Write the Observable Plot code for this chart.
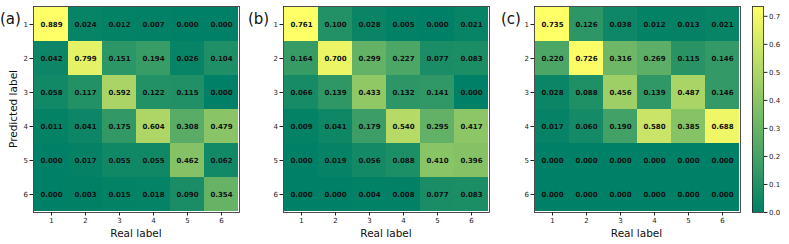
<!DOCTYPE html>
<html><head><meta charset="utf-8">
<script src="https://cdn.jsdelivr.net/npm/d3@7"></script>
<script src="https://cdn.jsdelivr.net/npm/@observablehq/plot@0.6"></script>
<style>
body{margin:0;background:#fff;}
#wrap{position:relative;width:789px;height:244px;overflow:hidden;background:#fff;}
#wrap > svg{position:absolute;top:0;}
</style></head><body><div id="wrap"></div>
<script>
// Class labels (rows = predicted label, columns = real label)
const classLabels = [1, 2, 3, 4, 5, 6];
const panelTags = ["(a)", "(b)", "(c)"];
const colorbarTicks = [0, 0.1, 0.2, 0.3, 0.4, 0.5, 0.6, 0.7];

const matA = [
  [0.889, 0.024, 0.012, 0.007, 0.000, 0.000],
  [0.042, 0.799, 0.151, 0.194, 0.026, 0.104],
  [0.058, 0.117, 0.592, 0.122, 0.115, 0.000],
  [0.011, 0.041, 0.175, 0.604, 0.308, 0.479],
  [0.000, 0.017, 0.055, 0.055, 0.462, 0.062],
  [0.000, 0.003, 0.015, 0.018, 0.090, 0.354]
];
const matB = [
  [0.761, 0.100, 0.028, 0.005, 0.000, 0.021],
  [0.164, 0.700, 0.299, 0.227, 0.077, 0.083],
  [0.066, 0.139, 0.433, 0.132, 0.141, 0.000],
  [0.009, 0.041, 0.179, 0.540, 0.295, 0.417],
  [0.000, 0.019, 0.056, 0.088, 0.410, 0.396],
  [0.000, 0.000, 0.004, 0.008, 0.077, 0.083]
];
const matC = [
  [0.735, 0.126, 0.038, 0.012, 0.013, 0.021],
  [0.220, 0.726, 0.316, 0.269, 0.115, 0.146],
  [0.028, 0.088, 0.456, 0.139, 0.487, 0.146],
  [0.017, 0.060, 0.190, 0.580, 0.385, 0.688],
  [0.000, 0.000, 0.000, 0.000, 0.000, 0.000],
  [0.000, 0.000, 0.000, 0.000, 0.000, 0.000]
];
const matrices = [matA, matB, matC];

const summer = ["#008066", "#ffff66"];
const FONT = "DejaVu Sans";
const wrap = document.getElementById("wrap");

const frameLefts = [33, 283, 533.5];
const FRAME = 206, TOP = 6, ML = 22, MR = 4, MB = 244 - 6 - 206;

matrices.forEach((m, i) => {
  const data = [];
  m.forEach((row, r) => row.forEach((v, c) => data.push({pred: classLabels[r], real: classLabels[c], value: v})));
  const vmax = d3.max(data, d => d.value);
  const svg = Plot.plot({
    width: ML + FRAME + MR,
    height: 244,
    marginLeft: ML, marginRight: MR, marginTop: TOP, marginBottom: MB,
    style: {fontFamily: FONT, fontSize: "7px", color: "#222", background: "transparent", overflow: "visible"},
    x: {type: "band", domain: classLabels, padding: 0, tickSize: 3.5, tickPadding: 2, label: null},
    y: {type: "band", domain: classLabels, padding: 0, tickSize: 3.5, tickPadding: 2, label: null},
    color: {type: "linear", domain: [0, vmax], range: summer, interpolate: "rgb"},
    marks: [
      Plot.cell(data, {x: "real", y: "pred", fill: "value", shapeRendering: "crispEdges"}),
      Plot.text(data, {x: "real", y: "pred", text: d => d.value.toFixed(3), fill: "#111", fontWeight: "bold", fontSize: 7}),
      Plot.frame({stroke: "#222", strokeWidth: 0.8})
    ]
  });
  svg.style.left = (frameLefts[i] - ML) + "px";
  wrap.appendChild(svg);
});

// colorbar (matches panel (c) scale)
const cbMax = d3.max(matC.flat());
const nSteps = 206;
const steps = d3.range(nSteps).map(k => k * cbMax / nSteps);
const cb = Plot.plot({
  width: 49, height: 244,
  marginLeft: 12, marginRight: 26, marginTop: TOP, marginBottom: MB,
  style: {fontFamily: FONT, fontSize: "7px", color: "#222", background: "transparent", overflow: "visible"},
  x: {domain: [0, 1], axis: null},
  y: {domain: [0, cbMax], axis: "right", ticks: colorbarTicks, tickFormat: ".1f", tickSize: 3.5, tickPadding: 2, label: null},
  color: {type: "linear", domain: [0, cbMax], range: summer, interpolate: "rgb"},
  marks: [
    Plot.rect(steps, {x1: 0, x2: 1, y1: d => d, y2: d => d + cbMax / nSteps, fill: d => d + cbMax / nSteps / 2, shapeRendering: "crispEdges"}),
    Plot.frame({stroke: "#222", strokeWidth: 0.8})
  ]
});
cb.style.left = "740px";
wrap.appendChild(cb);

// text overlay: panel tags and axis titles
const ns = "http://www.w3.org/2000/svg";
const ov = document.createElementNS(ns, "svg");
ov.setAttribute("width", 789); ov.setAttribute("height", 244);
ov.style.left = "0px";
ov.setAttribute("font-family", FONT);
function addText(txt, x, y, size, anchor, rot) {
  const t = document.createElementNS(ns, "text");
  t.textContent = txt;
  t.setAttribute("x", x); t.setAttribute("y", y);
  t.setAttribute("font-size", size);
  t.setAttribute("text-anchor", anchor);
  t.setAttribute("fill", "#111");
  if (rot) t.setAttribute("transform", `rotate(${rot},${x},${y})`);
  ov.appendChild(t);
}
const tagX = [0, 248, 501];
panelTags.forEach((tag, i) => addText(tag, tagX[i], 24, 15, "start"));
frameLefts.forEach(l => addText("Real label", l + FRAME / 2, 236.5, 10.5, "middle"));
addText("Predicted label", 16.5, TOP + FRAME / 2, 10.5, "middle", -90);
wrap.appendChild(ov);
</script>
</body></html>
